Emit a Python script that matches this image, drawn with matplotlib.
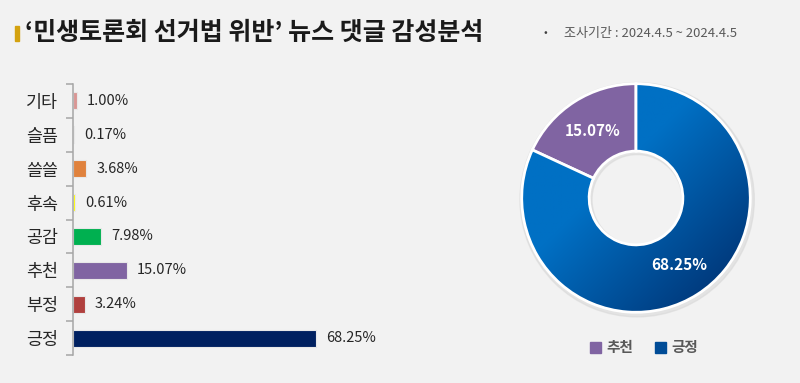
import matplotlib
matplotlib.use("Agg")
import matplotlib.pyplot as plt
from matplotlib.patches import Rectangle, Wedge
import numpy as np

plt.rcParams['font.family'] = ['Noto Sans CJK KR', 'DejaVu Sans']

# data
categories = ['기타', '슬픔', '쓸쓸', '후속', '공감', '추천', '부정', '긍정']
values = [1.00, 0.17, 3.68, 0.61, 7.98, 15.07, 3.24, 68.25]
bar_colors = ['#D99694', '#B4C7E7', '#E0823D', '#FFFF00', '#00B050', '#8064A2', '#B0403E', '#002060']

donut_labels = ['긍정', '추천']
donut_values = [68.25, 15.07]

title = '‘민생토론회 선거법 위반’ 뉴스 댓글 감성분석'
period = '조사기간 : 2024.4.5 ~ 2024.4.5'

W, H = 800, 383
fig = plt.figure(figsize=(W / 100, H / 100), dpi=100)
fig.patch.set_facecolor('#F2F2F2')

def px(x, y, w, h):
    # pixel box (top-left origin) -> figure fraction
    return [x / W, 1 - (y + h) / H, w / W, h / H]

# title
fig.patches.append(Rectangle((15 / W, 1 - 41 / H), 4 / W, 15 / H,
                             transform=fig.transFigure, color='#D4A20F'))
fig.text(25 / W, 1 - 33 / H, title, fontsize=18, fontweight='bold',
         color='#1A1A1A', va='center', ha='left')
fig.text(544 / W, 1 - 33 / H, '•', fontsize=8, color='#404040', va='center')
fig.text(564 / W, 1 - 33 / H, period, fontsize=9.4, color='#595959', va='center')

# bar chart
ax = fig.add_axes(px(73, 84, 356, 271))
ax.set_facecolor('none')
y = np.arange(len(categories))
ax.barh(y, values, height=0.5, color=bar_colors, edgecolor='#E8E8E8', linewidth=0.8)
ax.set_xlim(0, 100)
ax.set_ylim(len(categories) - 0.5, -0.5)
for s in ['top', 'right', 'bottom']:
    ax.spines[s].set_visible(False)
ax.spines['left'].set_color('#A6A6A6')
ax.spines['left'].set_linewidth(1.1)
ax.set_xticks([])
ax.set_yticks(y)
ax.set_yticklabels(categories, fontsize=12.5, color='#262626')
ax.tick_params(axis='y', which='major', length=0, pad=11)
ax.set_yticks(np.arange(-0.5, len(categories)), minor=True)
ax.tick_params(axis='y', which='minor', length=5, color='#A6A6A6', width=1.1)
for yi, v in zip(y, values):
    ax.text(v + 2.9, yi, f'{v:.2f}%', va='center', ha='left', fontsize=10.5, color='#262626')

# donut chart
ax2 = fig.add_axes(px(516, 78, 240, 240))
ax2.set_facecolor('none')
ax2.add_patch(Wedge((0.01, -0.015), 1.025, 0, 360, width=0.63, color='#D9D9D9', alpha=0.6, zorder=0))
wedges, _ = ax2.pie(donut_values, startangle=90, counterclock=False, radius=1,
                    colors=['#0060B0', '#8064A2'],
                    wedgeprops=dict(width=0.59, edgecolor='white', linewidth=2))
ax2.set_xlim(-1.05, 1.05)
ax2.set_ylim(-1.05, 1.05)
ax2.set_aspect('equal')
ax2.axis('off')

# gradient on the main slice
gx, gy = np.meshgrid(np.linspace(0, 1, 200), np.linspace(0, 1, 200))
t = (gx + gy) / 2
c0 = np.array([0x00, 0x70, 0xC4]) / 255
c1 = np.array([0x00, 0x2A, 0x68]) / 255
t = np.clip((t - 0.4) / 0.6, 0, 1)[..., None]
img = c0 * (1 - t) + c1 * t
im = ax2.imshow(img, extent=[-1, 1, -1, 1], origin='upper', zorder=1)
im.set_clip_path(wedges[0])
wedges[0].set_facecolor('none')
wedges[0].set_zorder(2)

for w, v in zip(wedges, donut_values):
    ang = np.deg2rad((w.theta1 + w.theta2) / 2)
    ax2.text(0.7 * np.cos(ang), 0.7 * np.sin(ang), f'{v:.2f}%', ha='center', va='center',
             fontsize=11, fontweight='bold', color='white', zorder=3)

# legend
lx = [590, 655]
for x0, lab, col in zip(lx, ['추천', '긍정'], ['#8064A2', '#004C97']):
    fig.patches.append(Rectangle((x0 / W, 1 - 353 / H), 11 / W, 11 / H,
                                 transform=fig.transFigure, color=col))
    fig.text((x0 + 16) / W, 1 - 347 / H, lab, fontsize=10.5, fontweight='bold',
             color='#595959', va='center', ha='left')

fig.savefig('out.png', dpi=100, facecolor=fig.get_facecolor())
